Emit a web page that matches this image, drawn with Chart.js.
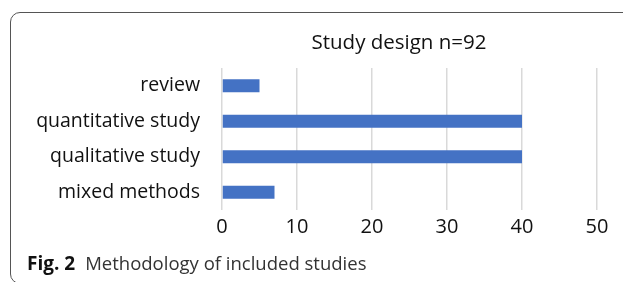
<!DOCTYPE html>
<html><head><meta charset="utf-8">
<script src="https://cdn.jsdelivr.net/npm/chart.js@4"></script>
<style>
html,body{margin:0;padding:0;background:#fff;width:623px;height:282px;overflow:hidden;position:relative;font-family:"Open Sans",sans-serif;}
#frame{position:absolute;left:10px;top:12px;width:700px;height:272px;border:1px solid #555;border-radius:10px;box-sizing:border-box;}
#wrap{position:absolute;left:0;top:0;width:623px;height:282px;}
#title{position:absolute;left:249px;width:300px;top:27px;text-align:center;font-size:20.5px;color:#111;line-height:28px;white-space:nowrap;}
#cap{position:absolute;left:27px;top:250px;font-size:18.5px;line-height:26px;color:#222;white-space:nowrap;}
#cap b{font-weight:700;color:#111;margin-right:10px;font-size:19px;}
#cap span{font-weight:400;color:#333;}
</style></head><body>
<div id="frame"></div>
<div id="wrap"><canvas id="c" width="623" height="282"></canvas></div>
<div id="title">Study design n=92</div>
<div id="cap"><b>Fig. 2</b><span>Methodology of included studies</span></div>
<script>
const categories = ["review", "quantitative study", "qualitative study", "mixed methods"];
const studyCounts = [5, 40, 40, 7];
const xTicks = [0, 10, 20, 30, 40, 50];

new Chart(document.getElementById('c'), {
  type: 'bar',
  data: {
    labels: categories,
    datasets: [{ data: studyCounts, backgroundColor: '#4472C4', barPercentage: 0.72, categoryPercentage: 0.5 }]
  },
  options: {
    indexAxis: 'y',
    responsive: false,
    animation: false,
    events: [],
    layout: { padding: { left: 0, right: 26, top: 68, bottom: 42 } },
    plugins: { legend: { display: false }, title: { display: false }, tooltip: { enabled: false } },
    scales: {
      x: {
        min: 0, max: 50,
        afterBuildTicks: s => { s.ticks = xTicks.map(v => ({ value: v })); },
        afterFit: s => { s.height = 30; },
        grid: { color: '#d9d9d9', lineWidth: 1.5, drawTicks: false },
        border: { display: false },
        ticks: { color: '#111', padding: 5, font: { family: 'Open Sans', size: 20 } }
      },
      y: {
        afterFit: s => { s.width = 222; },
        grid: { display: false, drawTicks: false },
        border: { display: false },
        ticks: { color: '#111', padding: 22, font: { family: 'Open Sans', size: 19.5 } }
      }
    }
  }
});
</script>
</body></html>
